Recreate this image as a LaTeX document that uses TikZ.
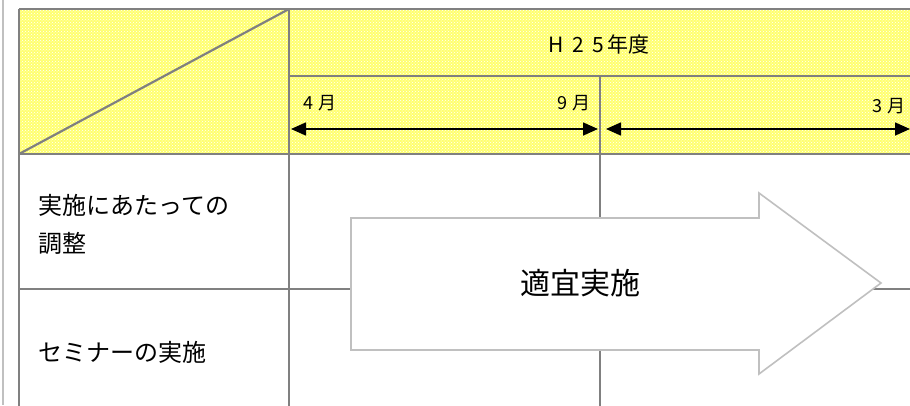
\documentclass[tikz,border=0pt]{standalone}
\usepackage{fontspec}
\setmainfont{Noto Sans CJK JP}
\newfontfamily\spacedfont[LetterSpace=28]{Noto Sans CJK JP}
\newfontfamily\widefont[LetterSpace=40]{Noto Sans CJK JP}
\usetikzlibrary{arrows.meta,patterns}
\definecolor{grid}{HTML}{808080}
\definecolor{lgray}{HTML}{C0C0C0}
\definecolor{hdr}{HTML}{FFFF70}
\tikzset{
  gridline/.style={draw=grid,line width=2.2pt},
  lbl/.style={font=\fontsize{24}{28}\selectfont,inner sep=0pt},
  mon/.style={font=\spacedfont\fontsize{18}{20}\selectfont,inner sep=0pt},
  span/.style={line width=1.6pt,{Triangle[length=15pt,width=13pt]}-{Triangle[length=15pt,width=13pt]}},
}
\begin{document}
\begin{tikzpicture}[x=1pt,y=-1pt]
\useasboundingbox (0,0) rectangle (910,405);
\clip (0,0) rectangle (910,405);
% page margin line
\draw[lgray,line width=2pt] (3,0) -- (3,405);
% header fill
\fill[hdr] (19,9) rectangle (915,154);
\fill[pattern=crosshatch dots,pattern color=white] (19,9) rectangle (915,154);
% grid
\draw[gridline] (19,9) -- (915,9);
\draw[gridline] (19,9) -- (19,410);
\draw[gridline] (289,9) -- (289,410);
\draw[gridline] (600,76) -- (600,410);
\draw[gridline] (289,76) -- (915,76);
\draw[gridline] (19,154) -- (915,154);
\draw[gridline] (19,289) -- (915,289);
\draw[gridline] (19,154) -- (289,9);
% header texts
\node[inner sep=0pt,font=\fontsize{21}{24}\selectfont] (h25) at (599,44) {{\widefont H25}\hspace{3pt}年度};
\node[mon,anchor=west] (m4) at (303,103) {4月};
\node[mon,anchor=east] (m9) at (591,103) {9月};
\node[mon,anchor=east] (m3) at (906,106) {3月};
\coordinate (a1) at (291,129);
\coordinate (a2) at (598,129);
\coordinate (b1) at (606,129);
\coordinate (b2) at (910,129);
\draw[span] (a1) -- (a2);
\draw[span] (b1) -- (b2);
% row labels
\node[lbl,anchor=west] (r1a) at (38,205) {実施にあたっての};
\node[lbl,anchor=west] (r1b) at (38,243) {調整};
\node[lbl,anchor=west] (r2) at (38,352) {セミナーの実施};
% big arrow
\draw[fill=white,draw=lgray,line width=1.6pt,line join=miter]
  (351,218) -- (759,218) -- (759,193) -- (881,283) -- (759,374) -- (759,350) -- (351,350) -- cycle;
\node[font=\fontsize{30}{34}\selectfont,inner sep=0pt] (impl) at (580,283) {適宜実施};
\end{tikzpicture}
\end{document}
